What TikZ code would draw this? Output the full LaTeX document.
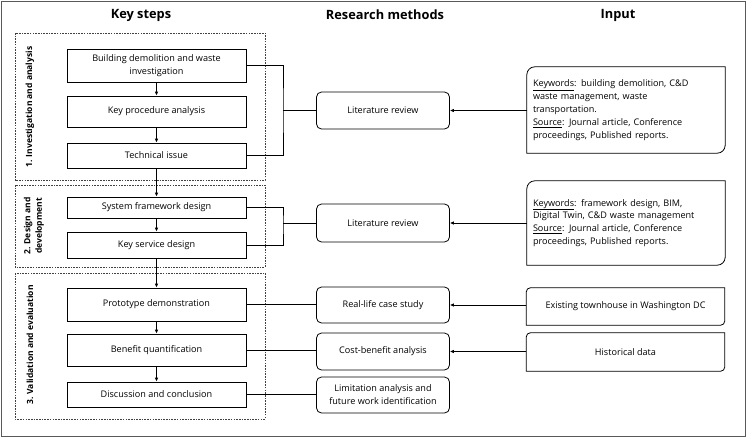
\documentclass[tikz,border=0pt]{standalone}
\usepackage{fontspec}
\setmainfont{Open Sans}
\usetikzlibrary{arrows.meta}
\newcommand\cutbox[2]{\draw[boxline] (#1.south west) -- ([yshift=-#2]#1.north west) arc[start angle=180,end angle=90,radius=#2] -- (#1.north east) -- ([yshift=#2]#1.south east) arc[start angle=0,end angle=-90,radius=#2] -- cycle;}
\begin{document}
\begin{tikzpicture}[x=1pt,y=-1pt,
  txt/.style={font=\fontsize{9.1}{12.9}\selectfont},
  head/.style={font=\fontsize{12.8}{14}\selectfont\bfseries},
  grp/.style={font=\fontsize{8.5}{11.5}\selectfont\bfseries, rotate=90, align=center},
  boxline/.style={draw=black, line width=0.8pt},
  stepbox/.style={boxline, txt, minimum width=179pt, inner sep=1pt, align=center},
  methodbox/.style={boxline, txt, rounded corners=5pt, minimum width=133pt, inner sep=1pt, align=center},
  inbox/.style={txt, minimum width=198pt, inner sep=1pt},
  group/.style={draw=black!75, line width=0.7pt, dash pattern=on 1.6pt off 1.1pt},
  conn/.style={draw=black, line width=1pt},
  arr/.style={conn, -{Latex[length=4pt,width=3.6pt]}}
]
\useasboundingbox (0,0) rectangle (748,439);
\draw[draw=black!65, line width=1.3pt] (1.5,1.5) rectangle (745.5,436.5);

% headers
\node[head] (h1) at (141,15) {Key steps};
\node[head] (h2) at (385,15) {Research methods};
\node[head] (h3) at (618,15) {Input};

% groups
\draw[group] (15,33) rectangle (265,180);
\draw[group] (15,185) rectangle (265,267);
\draw[group] (15,273) rectangle (265,419);
\node[grp] (g1) at (30,107) {1. Investigation and analysis};
\node[grp] (g2) at (34,226) {2. Design and\\development};
\node[grp] (g3) at (30,345) {3. Validation and evaluation};

% key steps
\node[stepbox, minimum height=33pt] (b1) at (156.5,65.5) {Building demolition and waste\\investigation};
\node[stepbox, minimum height=31pt] (b2) at (156.5,111.5) {Key procedure analysis};
\node[stepbox, minimum height=25pt] (b3) at (156.5,155.5) {Technical issue};
\node[stepbox, minimum height=21pt] (b4) at (156.5,207.5) {System framework design};
\node[stepbox, minimum height=26pt] (b5) at (156.5,245) {Key service design};
\node[stepbox, minimum height=33pt] (b6) at (156.5,304.5) {Prototype demonstration};
\node[stepbox, minimum height=32pt] (b7) at (156.5,350) {Benefit quantification};
\node[stepbox, minimum height=25pt] (b8) at (156.5,394.5) {Discussion and conclusion};

\draw[arr] (b1) -- (b2);
\draw[arr] (b2) -- (b3);
\draw[arr] (b3) -- (b4);
\draw[arr] (b4) -- (b5);
\draw[arr] (b5) -- (b6);
\draw[arr] (b6) -- (b7);
\draw[arr] (b7) -- (b8);

% methods
\node[methodbox, minimum height=37pt] (m1) at (383,110.5) {Literature review};
\node[methodbox, minimum height=38pt] (m2) at (383,223) {Literature review};
\node[methodbox, minimum height=36pt] (m3) at (383,305) {Real-life case study};
\node[methodbox, minimum height=37pt] (m4) at (383,351.5) {Cost-benefit analysis};
\node[methodbox, minimum height=36pt] (m5) at (383,395) {Limitation analysis and\\future work identification};

% brackets
\coordinate (k1) at (283,110.5);
\coordinate (k2) at (283,223);
\draw[conn] (b1.east) -| (k1) |- (b3.east);
\draw[conn] (k1) -- (m1.west);
\draw[conn] (b4.east) -| (k2) |- (b5.east);
\draw[conn] (k2) -- (m2.west);
\draw[conn] (b6.east) -- (b6.east -| m3.west);
\draw[conn] (b7.east) -- (b7.east -| m4.west);
\draw[conn] (b8.east) -- (b8.east -| m5.west);

% inputs
\node[inbox, minimum height=86pt, text width=186pt, align=left] (i1) at (626,110) {\underline{Keywords}: building demolition, C\&D\\waste management, waste\\transportation.\\\underline{Source}: Journal article, Conference\\proceedings, Published reports.};
\node[inbox, minimum height=84pt, text width=186pt, align=left] (i2) at (626,223) {\underline{Keywords}: framework design, BIM,\\Digital Twin, C\&D waste management\\\underline{Source}: Journal article, Conference\\proceedings, Published reports.};
\node[inbox, minimum height=37pt, align=center] (i3) at (625.5,306.5) {Existing townhouse in Washington DC};
\node[inbox, minimum height=38pt, align=center] (i4) at (625.5,352) {Historical data};
\cutbox{i1}{8pt}
\cutbox{i2}{8pt}
\cutbox{i3}{4pt}
\cutbox{i4}{4pt}

\draw[arr] (i1.west |- m1.east) -- (m1.east);
\draw[arr] (i2.west |- m2.east) -- (m2.east);
\draw[arr] (i3.west |- m3.east) -- (m3.east);
\draw[arr] (i4.west |- m4.east) -- (m4.east);
\end{tikzpicture}
\end{document}
